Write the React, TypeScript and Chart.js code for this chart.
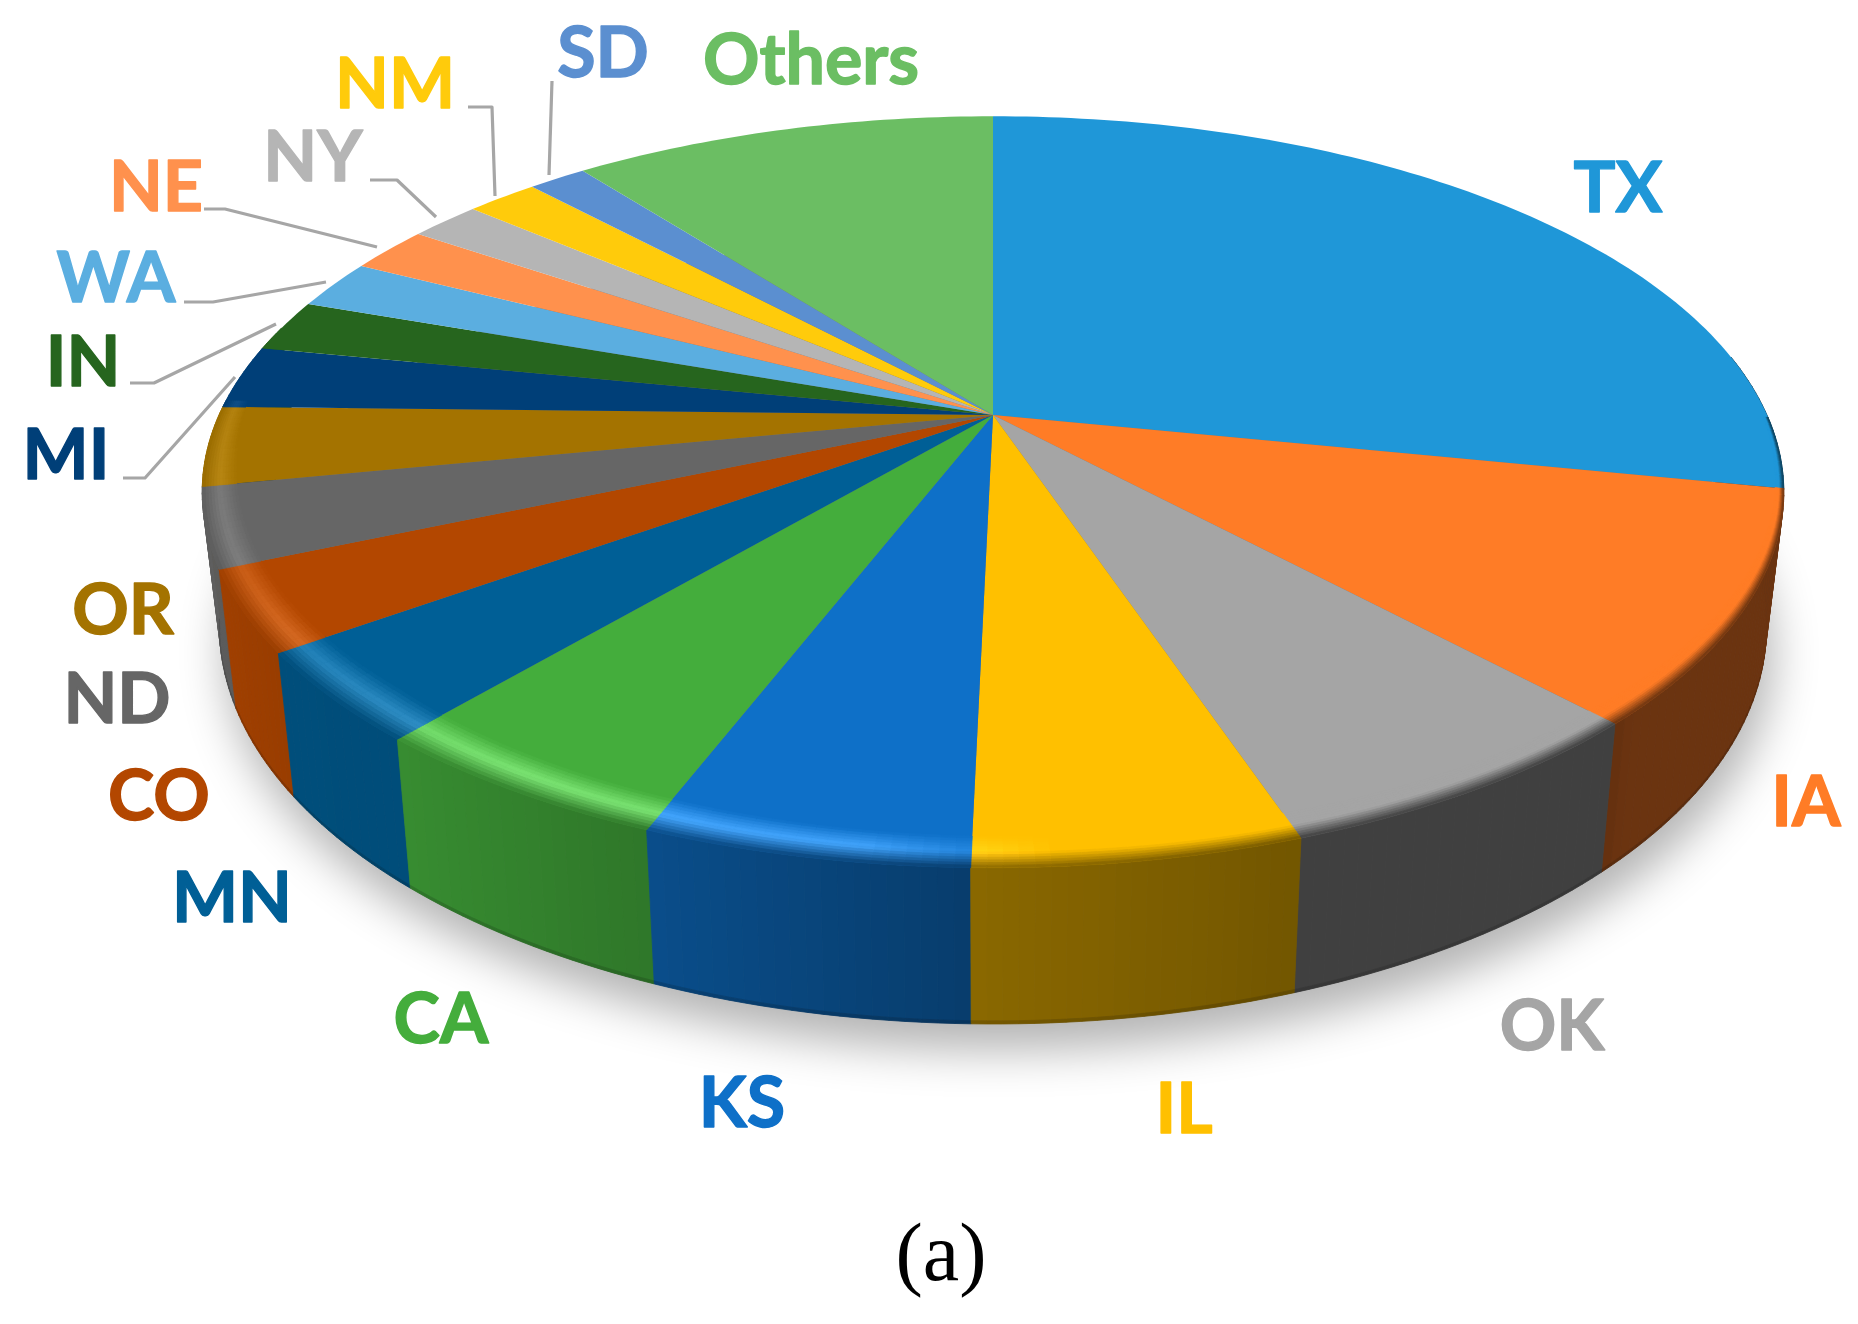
import React, { useRef, useEffect } from 'react'
import { Chart, registerables } from 'chart.js'

Chart.register(...registerables)

const labels = ['TX', 'IA', 'OK', 'IL', 'KS', 'CA', 'MN', 'CO', 'ND', 'OR', 'MI', 'IN', 'WA', 'NE', 'NY', 'NM', 'SD', 'Others']
const shares = [28.14, 9.89, 6.78, 5.56, 5.53, 5.36, 3.86, 3.44, 3.39, 3.42, 2.72, 2.25, 2.14, 2.0, 1.75, 1.78, 1.44, 10.56]
const colors = ['#1f97d8', '#ff7c26', '#a5a5a5', '#ffc000', '#0e70c8', '#44ad3c', '#005f96', '#b34700', '#666666', '#a47300', '#003f78', '#26651e', '#5baee0', '#ff914d', '#b5b5b5', '#ffcb0b', '#5b8fd0', '#6bbe63']

// label centres in page pixels, same order as labels
const labelSpots = [[1618, 189], [1806, 803], [1552, 1027], [1184, 1110], [742, 1104], [441, 1020], [232, 899], [159, 797], [117, 700], [123, 611], [66, 456], [83, 363], [116, 279], [156, 188], [313, 158], [395, 85], [603, 54], [811, 61]]

// leader lines for the small slices, first point near the label
const leaders = [
  [[552, 81], [549, 175]],
  [[468, 107], [492, 107], [495, 196]],
  [[370, 180], [397, 180], [436, 217]],
  [[204, 209], [225, 209], [377, 247]],
  [[184, 302], [213, 302], [326, 282]],
  [[130, 383], [154, 383], [276, 324]],
  [[123, 478], [145, 478], [235, 377]],
]

// projection of the tilted disc
const CX = 993
const APEX_Y = 415
const RX = 774
const RY = 360
const PERSP = 0.205
const BOTTOM = { x: 757, y0: 546, y: 380 }

const rad = (d: number) => (d * Math.PI) / 180

const project = (theta: number, r: number) => {
  const u = r * Math.sin(theta)
  const v = -r * Math.cos(theta)
  const w = 1 - PERSP * v
  return [CX + (RX * u) / w, APEX_Y + (RY * v) / w]
}

const projectBottom = (theta: number) => {
  const u = Math.sin(theta)
  const v = -Math.cos(theta)
  const w = 1 - PERSP * v
  return [CX + (BOTTOM.x * u) / w, BOTTOM.y0 + (BOTTOM.y * v) / w]
}

const lookup = (table: number[][], deg: number) => {
  if (deg <= table[0][0]) return table[0][1]
  for (let i = 1; i < table.length; i++) {
    if (deg <= table[i][0]) {
      const f = (deg - table[i - 1][0]) / (table[i][0] - table[i - 1][0])
      return table[i - 1][1] + f * (table[i][1] - table[i - 1][1])
    }
  }
  return table[table.length - 1][1]
}

const wallShade = [[90, 0.42], [135, 0.42], [137, 0.39], [161, 0.39], [161.5, 0.45], [181, 0.54], [201, 0.69], [220, 0.81], [234, 0.82], [235, 0.86], [259, 0.93], [280, 0.95]]
const bevelGlow = [[176, 0], [188, 0.34], [212, 0.36], [230, 0.26], [245, 0.16], [272, 0.1]]
const bevelWidth = [[90, 0.006], [105, 0.012], [135, 0.035], [175, 0.055], [225, 0.065], [262, 0.04], [272, 0.03]]

const hexRgb = (h: string) => [parseInt(h.slice(1, 3), 16), parseInt(h.slice(3, 5), 16), parseInt(h.slice(5, 7), 16)]
const rgb = (c: number[]) => `rgb(${c.map((n) => Math.round(Math.min(255, n))).join(',')})`
const mix = (a: number[], b: number[], f: number) => a.map((n, i) => n + (b[i] - n) * f)

const quad = (ctx: CanvasRenderingContext2D, pts: number[][], fill: string) => {
  ctx.beginPath()
  pts.forEach((p, i) => (i ? ctx.lineTo(p[0], p[1]) : ctx.moveTo(p[0], p[1])))
  ctx.closePath()
  ctx.fillStyle = fill
  ctx.strokeStyle = fill
  ctx.lineWidth = 0.8
  ctx.fill()
  ctx.stroke()
}

// the 3D disc is painted from the arc elements chart.js laid out
const discPlugin = {
  id: 'disc',
  beforeDraw(chart: any) {
    const ctx = chart.ctx
    ctx.save()
    ctx.fillStyle = '#ffffff'
    ctx.fillRect(0, 0, chart.width, chart.height)
    ctx.restore()
  },
  beforeDatasetsDraw(chart: any) {
    const ctx: CanvasRenderingContext2D = chart.ctx
    const arcs = chart.getDatasetMeta(0).data.map((el: any, i: number) => ({
      start: el.startAngle + Math.PI / 2,
      end: el.endAngle + Math.PI / 2,
      color: hexRgb(colors[i]),
    }))
    ctx.save()

    // soft shadow under the disc
    ctx.save()
    ctx.shadowColor = 'rgba(0,0,0,0.3)'
    ctx.shadowBlur = 46
    ctx.shadowOffsetX = 6
    ctx.shadowOffsetY = 26
    ctx.beginPath()
    for (let d = 0; d < 360; d += 2) {
      const p = projectBottom(rad(d))
      if (d) ctx.lineTo(p[0], p[1])
      else ctx.moveTo(p[0], p[1])
    }
    ctx.closePath()
    ctx.fillStyle = '#777777'
    ctx.fill()
    ctx.restore()

    // side wall, back slices first so the front ones cover them
    const byDepth = [...arcs].sort((a: any, b: any) => project((a.start + a.end) / 2, 1)[1] - project((b.start + b.end) / 2, 1)[1])
    byDepth.forEach((a: any) => {
      const steps = Math.max(2, Math.ceil(((a.end - a.start) * 180) / Math.PI))
      for (let s = 0; s < steps; s++) {
        const t0 = a.start + ((a.end - a.start) * s) / steps
        const t1 = a.start + ((a.end - a.start) * (s + 1)) / steps
        const deg = (((t0 + t1) / 2) * 180) / Math.PI
        if (deg < 80 || deg > 285) continue
        const shade = lookup(wallShade, deg)
        const wall = a.color.map((n: number) => n * shade)
        const top0 = project(t0, 1)
        const top1 = project(t1, 1)
        const bot0 = projectBottom(t0)
        const bot1 = projectBottom(t1)
        const at = (p: number[], q: number[], f: number) => [p[0] + (q[0] - p[0]) * f, p[1] + (q[1] - p[1]) * f]
        quad(ctx, [top0, top1, at(top1, bot1, 0.98), at(top0, bot0, 0.98)], rgb(wall))
        quad(ctx, [at(top0, bot0, 0.98), at(top1, bot1, 0.98), bot1, bot0], rgb(wall.map((n: number) => n * 0.85)))
      }
    })

    // top face
    arcs.forEach((a: any) => {
      const pts = [[CX, APEX_Y]]
      const steps = Math.max(2, Math.ceil(((a.end - a.start) * 180) / Math.PI))
      for (let s = 0; s <= steps; s++) pts.push(project(a.start + ((a.end - a.start) * s) / steps, 1))
      ctx.beginPath()
      pts.forEach((p, i) => (i ? ctx.lineTo(p[0], p[1]) : ctx.moveTo(p[0], p[1])))
      ctx.closePath()
      ctx.fillStyle = rgb(a.color)
      ctx.fill()
    })

    // rounded edge between the top face and the wall
    const bands = 12
    arcs.forEach((a: any) => {
      const steps = Math.max(2, Math.ceil(((a.end - a.start) * 180) / Math.PI))
      for (let s = 0; s < steps; s++) {
        const t0 = a.start + ((a.end - a.start) * s) / steps
        const t1 = a.start + ((a.end - a.start) * (s + 1)) / steps
        const deg = (((t0 + t1) / 2) * 180) / Math.PI
        if (deg < 90 || deg > 272) continue
        const glow = lookup(bevelGlow, deg)
        const width = lookup(bevelWidth, deg)
        const wall = a.color.map((n: number) => n * lookup(wallShade, deg))
        const bright = a.color.map((n: number) => n + 155 * glow)
        for (let b = 0; b < bands; b++) {
          const q = (b + 0.5) / bands
          const col = q < 0.5 ? mix(a.color, bright, q / 0.5) : mix(bright, wall, (q - 0.5) / 0.5)
          const r0 = 1 - width * (1 - b / bands)
          const r1 = 1 - width * (1 - (b + 1) / bands)
          quad(ctx, [project(t0, r0), project(t1, r0), project(t1, r1), project(t0, r1)], rgb(col))
        }
      }
    })
    ctx.restore()
    return false
  },
  afterDraw(chart: any) {
    const ctx: CanvasRenderingContext2D = chart.ctx
    ctx.save()
    ctx.strokeStyle = '#a6a6a6'
    ctx.lineWidth = 3.2
    ctx.lineJoin = 'round'
    leaders.forEach((line) => {
      ctx.beginPath()
      line.forEach((p, i) => (i ? ctx.lineTo(p[0], p[1]) : ctx.moveTo(p[0], p[1])))
      ctx.stroke()
    })
    ctx.textAlign = 'center'
    ctx.textBaseline = 'middle'
    ctx.font = '700 70px Lato'
    ctx.lineWidth = 1.4
    labels.forEach((name, i) => {
      ctx.fillStyle = colors[i]
      ctx.strokeStyle = colors[i]
      ctx.fillText(name, labelSpots[i][0], labelSpots[i][1])
      ctx.strokeText(name, labelSpots[i][0], labelSpots[i][1])
    })
    ctx.fillStyle = '#000000'
    ctx.font = '82px "Liberation Serif"'
    ctx.fillText('(a)', 941, 1258)
    ctx.restore()
  },
}

export default function App() {
  const canvasRef = useRef<HTMLCanvasElement>(null)

  useEffect(() => {
    if (!canvasRef.current) return
    document.body.style.margin = '0'
    const chart = new Chart(canvasRef.current, {
      type: 'pie',
      data: {
        labels,
        datasets: [{ data: shares, backgroundColor: colors, borderWidth: 0 }],
      },
      options: {
        animation: false,
        responsive: false,
        devicePixelRatio: 1,
        plugins: { legend: { display: false }, tooltip: { enabled: false } },
      },
      plugins: [discPlugin],
    })
    return () => chart.destroy()
  }, [])

  return <canvas ref={canvasRef} width={1858} height={1324} style={{ display: 'block', width: 1858, height: 1324, filter: 'blur(0.6px)' }} />
}
